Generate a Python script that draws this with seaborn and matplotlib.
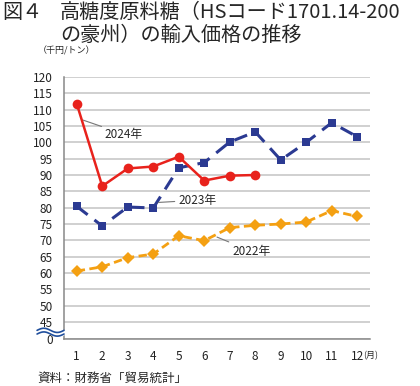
import matplotlib
matplotlib.use("Agg")
import matplotlib.pyplot as plt
import seaborn as sns
import numpy as np
import pandas as pd

months = list(range(1, 13))
price_2022 = [60.6, 61.9, 64.7, 65.8, 71.4, 69.9, 73.9, 74.6, 75.0, 75.6, 79.1, 77.3]
price_2023 = [80.4, 74.4, 80.2, 79.9, 92.2, 93.8, 100.1, 103.2, 94.6, 100.0, 106.0, 101.7]
price_2024 = [111.8, 86.6, 92.0, 92.6, 95.6, 88.3, 89.8, 90.0]
y_ticks = [0, 45, 50, 55, 60, 65, 70, 75, 80, 85, 90, 95, 100, 105, 110, 115, 120]

sns.set_style("white")
plt.rcParams["font.family"] = ["Noto Sans CJK JP", "DejaVu Sans"]

# broken axis: 0..45 squeezed into a small band
K = 5.2 / 45.0


def fwd(y):
    y = np.asarray(y, dtype=float)
    return np.where(y >= 45, y, 45 - (45 - y) * K)


def inv(t):
    t = np.asarray(t, dtype=float)
    return np.where(t >= 45, t, 45 - (45 - t) / K)


fig = plt.figure(figsize=(4.2, 3.86), dpi=100)
ax = fig.add_axes([64 / 420, 1 - 339 / 386, 306 / 420, 262 / 386])
ax.set_yscale("function", functions=(fwd, inv))

df22 = pd.DataFrame({"month": months, "price": price_2022})
df23 = pd.DataFrame({"month": months, "price": price_2023})
df24 = pd.DataFrame({"month": months[:len(price_2024)], "price": price_2024})

sns.lineplot(data=df22, x="month", y="price", ax=ax, color="#f4a012",
             marker="D", markersize=6, markeredgewidth=0, linewidth=2,
             linestyle=(0, (3, 1.6)), zorder=3)
sns.lineplot(data=df23, x="month", y="price", ax=ax, color="#2b3a92",
             marker="s", markersize=6, markeredgewidth=0, linewidth=2.2,
             linestyle=(0, (4.5, 2.8)), zorder=3)
sns.lineplot(data=df24, x="month", y="price", ax=ax, color="#e8221c",
             marker="o", markersize=7, markeredgewidth=0, linewidth=1.8,
             zorder=4)

ax.set_xlim(0.5, 12.5)
ax.set_ylim(0, 120)
ax.set_yticks(y_ticks)
ax.set_yticklabels([str(v) for v in y_ticks])
ax.set_xticks(months)
ax.set_xticklabels([str(m) for m in months])
ax.set_xticks(np.arange(0.5, 13, 1), minor=True)
ax.tick_params(axis="x", which="major", length=0, pad=8, labelsize=8.5, colors="#222222")
ax.tick_params(axis="x", which="minor", length=3, width=1, color="#888888", direction="out")
ax.tick_params(axis="y", length=0, pad=8, labelsize=8.5, colors="#222222")
ax.set_xlabel("")
ax.set_ylabel("")
ax.yaxis.grid(True, color="#c4c4c4", linewidth=1.1)
ax.set_axisbelow(True)
for s in ["top", "right"]:
    ax.spines[s].set_visible(False)
for s in ["left", "bottom"]:
    ax.spines[s].set_color("#888888")
    ax.spines[s].set_linewidth(1.1)

# break marks on the y axis
wx = np.linspace(-0.088, 0.0, 60)
wave = 0.008 * np.sin(2 * np.pi * (wx - wx[0]) / (wx[-1] - wx[0]))
up = 0.033 + wave
lo = 0.019 + wave
ax.fill_between(wx, lo, up, color="white", transform=ax.transAxes,
                clip_on=False, zorder=5)
ax.plot(wx, up, color="#1f4e9c", lw=1.2, transform=ax.transAxes, clip_on=False, zorder=6)
ax.plot(wx, lo, color="#1f4e9c", lw=1.2, transform=ax.transAxes, clip_on=False, zorder=6)

# series labels with leader lines
lead = dict(arrowstyle="-", color="#777777", lw=0.8, shrinkA=0, shrinkB=0)
ax.annotate("2024年", xy=(1.25, 106.8), xytext=(2.1, 102.5), fontsize=8.5,
            va="center", arrowprops=lead)
ax.annotate("2023年", xy=(4.2, 81.6), xytext=(4.97, 82.3), fontsize=8.5,
            va="center", arrowprops=lead)
ax.annotate("2022年", xy=(6.5, 71.0), xytext=(7.09, 66.7), fontsize=8.5,
            va="center", arrowprops=lead)

# texts around the plot
fig.text(2 / 420, 1 - 12 / 386, "図４", fontsize=14.5, va="center")
fig.text(60 / 420, 1 - 12 / 386, "高糖度原料糖（HSコード1701.14-200", fontsize=14.5, va="center")
fig.text(60 / 420, 1 - 35 / 386, "の豪州）の輸入価格の推移", fontsize=14.5, va="center")
fig.text(38 / 420, 1 - 51 / 386, "（千円/トン）", fontsize=6.5, va="center")
fig.text(363 / 420, 1 - 356 / 386, "(月)", fontsize=6.5, va="center")
fig.text(37 / 420, 1 - 378 / 386, "資料：財務省「貿易統計」", fontsize=9, va="center")

fig.savefig("out.png", dpi=100, facecolor="white")
